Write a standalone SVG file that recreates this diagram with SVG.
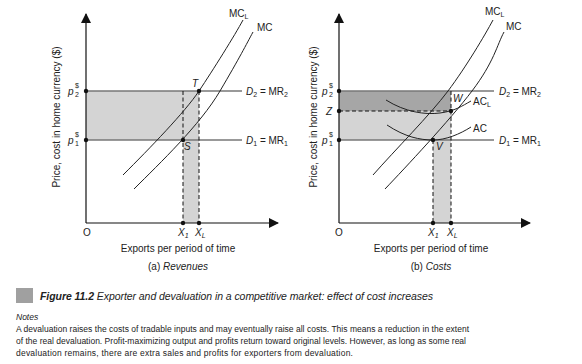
<svg xmlns="http://www.w3.org/2000/svg" width="582" height="364" viewBox="0 0 582 364">
<style>
text{font-family:"Liberation Sans",Arial,sans-serif;fill:#222}
.t{font-size:10px}
.i{font-style:italic}
.ax{stroke:#111;stroke-width:1.2;fill:none}
.hl{stroke:#777;stroke-width:1.3;fill:none}
.cv{stroke:#222;stroke-width:1;fill:none}
.ds{stroke:#111;stroke-width:1;stroke-dasharray:4,2.5;fill:none}
.dot{fill:#111}
.lt{fill:#d4d4d4}
.dk{fill:#a6a6a6}
.sm{font-size:7px}
</style>
<defs>
<marker id="ah" markerWidth="10" markerHeight="10" refX="9" refY="5" orient="auto" markerUnits="userSpaceOnUse">
<path d="M0,0 L10,5 L0,10 Z" fill="#111"/>
</marker>
</defs>

<g id="panel-a">
<g id="a-shading">
<rect class="lt" x="86" y="91" width="113" height="49"/>
<rect class="lt" x="183" y="140" width="16" height="83"/>
</g>
<g id="a-axes">
<path class="ax" d="M86,223 V14" marker-end="url(#ah)"/>
<path class="ax" d="M86,223 H278" marker-end="url(#ah)"/>
</g>
<g id="a-demand">
<path class="hl" d="M86,91 H242"/>
<path class="hl" d="M86,140 H242"/>
<text class="t" x="246" y="95"><tspan class="i">D</tspan><tspan class="sm" dy="2">2</tspan><tspan dy="-2"> = MR</tspan><tspan class="sm" dy="2">2</tspan></text>
<text class="t" x="246" y="144"><tspan class="i">D</tspan><tspan class="sm" dy="2">1</tspan><tspan dy="-2"> = MR</tspan><tspan class="sm" dy="2">1</tspan></text>
</g>
<g id="a-connectors">
<path class="ds" d="M183,91 V223"/>
<path class="ds" d="M199,91 V223"/>
<path class="cv" d="M123,175 C150,148 185,112 199,91 S235,35 243,20"/>
<path class="cv" d="M134,189 C160,163 200,125 220,91 S246,45 253,32"/>
</g>
<g id="a-points">
<circle class="dot" cx="86" cy="91" r="2.2"/>
<circle class="dot" cx="86" cy="140" r="2.2"/>
<circle class="dot" cx="199" cy="91" r="2.2"/>
<circle class="dot" cx="183" cy="140" r="2.2"/>
<circle class="dot" cx="183" cy="223" r="2.2"/>
<circle class="dot" cx="199" cy="223" r="2.2"/>
</g>
<g id="a-labels">
<text class="t" x="229" y="17">MC<tspan class="sm" dy="2">L</tspan></text>
<text class="t" x="257" y="31">MC</text>
<text class="t i" x="192" y="87">T</text>
<text class="t i" x="184" y="150">S</text>
<text class="t i" x="68" y="95">p</text><text class="sm" x="75" y="88">$</text><text class="sm" x="75" y="97">2</text>
<text class="t i" x="68" y="144">p</text><text class="sm" x="75" y="137">$</text><text class="sm" x="75" y="146">1</text>
<text class="t" x="83" y="236">O</text>
<text class="t i" x="178" y="236">X<tspan class="sm" dy="2">1</tspan></text>
<text class="t i" x="195" y="236">X<tspan class="sm" dy="2">L</tspan></text>
<text class="t" x="178" y="252" text-anchor="middle">Exports per period of time</text>
<text class="t" x="178" y="270" text-anchor="middle">(a) <tspan class="i">Revenues</tspan></text>
<text class="t" transform="translate(60,117) rotate(-90)" text-anchor="middle">Price, cost in home currency ($)</text>
</g>
</g>

<g id="panel-b">
<g id="b-shading">
<rect class="dk" x="339" y="91" width="112" height="20"/>
<rect class="lt" x="339" y="111" width="112" height="29"/>
<rect class="lt" x="433" y="140" width="18" height="83"/>
</g>
<g id="b-axes">
<path class="ax" d="M339,223 V14" marker-end="url(#ah)"/>
<path class="ax" d="M339,223 H530" marker-end="url(#ah)"/>
</g>
<g id="b-demand">
<path class="hl" d="M339,91 H494"/>
<path class="hl" d="M339,140 H494"/>
<text class="t" x="499" y="95"><tspan class="i">D</tspan><tspan class="sm" dy="2">2</tspan><tspan dy="-2"> = MR</tspan><tspan class="sm" dy="2">2</tspan></text>
<text class="t" x="499" y="144"><tspan class="i">D</tspan><tspan class="sm" dy="2">1</tspan><tspan dy="-2"> = MR</tspan><tspan class="sm" dy="2">1</tspan></text>
</g>
<g id="b-connectors">
<path class="ds" d="M339,111 H451"/>
<path class="ds" d="M433,140 V223"/>
<path class="ds" d="M451,91 V223"/>
<path class="cv" d="M373,175 C395,150 430,115 448,91 S485,35 493,20"/>
<path class="cv" d="M385,189 C405,168 450,120 472,91 S497,45 504,32"/>
<path class="cv" d="M386,100 C405,112 425,115 440,113 S462,106 471,101"/>
<path class="cv" d="M387,125 C405,137 420,140 433,140 S460,134 471,127"/>
</g>
<g id="b-points">
<circle class="dot" cx="339" cy="91" r="2.2"/>
<circle class="dot" cx="339" cy="111" r="2.2"/>
<circle class="dot" cx="339" cy="140" r="2.2"/>
<circle class="dot" cx="451" cy="111" r="2.2"/>
<circle class="dot" cx="433" cy="140" r="2.2"/>
<circle class="dot" cx="433" cy="223" r="2.2"/>
<circle class="dot" cx="451" cy="223" r="2.2"/>
</g>
<g id="b-labels">
<text class="t" x="485" y="15">MC<tspan class="sm" dy="2">L</tspan></text>
<text class="t" x="506" y="30">MC</text>
<text class="t" x="473" y="105">AC<tspan class="sm" dy="2">L</tspan></text>
<text class="t" x="473" y="132">AC</text>
<text class="t i" x="453" y="102">W</text>
<text class="t i" x="436" y="150">V</text>
<text class="t i" x="326" y="115">Z</text>
<text class="t i" x="322" y="95">p</text><text class="sm" x="329" y="88">$</text><text class="sm" x="329" y="97">2</text>
<text class="t i" x="322" y="144">p</text><text class="sm" x="329" y="137">$</text><text class="sm" x="329" y="146">1</text>
<text class="t" x="335" y="236">O</text>
<text class="t i" x="428" y="236">X<tspan class="sm" dy="2">1</tspan></text>
<text class="t i" x="447" y="236">X<tspan class="sm" dy="2">L</tspan></text>
<text class="t" x="431" y="252" text-anchor="middle">Exports per period of time</text>
<text class="t" x="431" y="270" text-anchor="middle">(b) <tspan class="i">Costs</tspan></text>
<text class="t" transform="translate(317,117) rotate(-90)" text-anchor="middle">Price, cost in home currency ($)</text>
</g>
</g>

<g id="caption">
<rect x="16" y="288" width="17" height="15" fill="#a0a0a0"/>
<text x="40" y="300" font-size="10.5" class="i" textLength="393" lengthAdjust="spacing"><tspan font-weight="bold">Figure 11.2</tspan> Exporter and devaluation in a competitive market: effect of cost increases</text>
<text x="16" y="320" font-size="8.5" class="i">Notes</text>
<text x="16" y="332" font-size="8.5" textLength="453" lengthAdjust="spacing">A devaluation raises the costs of tradable inputs and may eventually raise all costs. This means a reduction in the extent</text>
<text x="16" y="344" font-size="8.5" textLength="450" lengthAdjust="spacing">of the real devaluation. Profit-maximizing output and profits return toward original levels. However, as long as some real</text>
<text x="16" y="356" font-size="8.5" textLength="337" lengthAdjust="spacing">devaluation remains, there are extra sales and profits for exporters from devaluation.</text>
</g>
</svg>
